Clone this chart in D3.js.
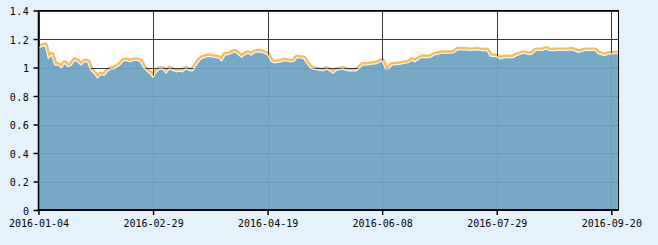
<!DOCTYPE html>
<html>
<head>
<meta charset="utf-8">
<script src="https://cdn.jsdelivr.net/npm/d3@7"></script>
<style>
  html, body { margin: 0; padding: 0; background: #e6f2fb; }
  svg { display: block; }
  .tick text { font-family: "DejaVu Sans Mono", monospace; font-size: 10px; fill: #000; }
</style>
</head>
<body>
<div id="chart"></div>
<script>
// trading-day tick labels and their index in the series
const tickLabels = ["2016-01-04", "2016-02-29", "2016-04-19", "2016-06-08", "2016-07-29", "2016-09-20"];
const tickIndex = [0, 35, 70, 105, 140, 175];
const yTicks = [0, 0.2, 0.4, 0.6, 0.8, 1, 1.2, 1.4];

// net value per trading day
const values = [
  1.136, 1.148, 1.155, 1.064, 1.088, 1.017, 1.017, 0.998, 1.03, 1.005,
  1.017, 1.05, 1.04, 1.017, 1.04, 1.04, 0.98, 0.96, 0.926, 0.95,
  0.945, 0.97, 0.99, 0.99, 1.005, 1.02, 1.048, 1.048, 1.04, 1.05,
  1.05, 1.045, 1.005, 0.976, 0.96, 0.93, 0.97, 0.988, 0.988, 0.96,
  0.99, 0.98, 0.97, 0.975, 0.97, 0.99, 0.98, 0.975, 1.01, 1.045,
  1.064, 1.072, 1.078, 1.074, 1.07, 1.066, 1.045, 1.088, 1.09, 1.1,
  1.11, 1.093, 1.07, 1.09, 1.1, 1.088, 1.105, 1.11, 1.108, 1.1,
  1.09, 1.045, 1.033, 1.036, 1.04, 1.048, 1.044, 1.04, 1.042, 1.07,
  1.066, 1.064, 1.03, 0.998, 0.988, 0.985, 0.98, 0.976, 0.99, 0.975,
  0.96, 0.98, 0.985, 0.99, 0.98, 0.976, 0.976, 0.976, 0.995, 1.017,
  1.018, 1.02, 1.024, 1.026, 1.035, 1.045, 0.99, 0.99, 1.017, 1.02,
  1.022, 1.026, 1.03, 1.033, 1.05, 1.04, 1.055, 1.07, 1.07, 1.07,
  1.074, 1.09, 1.092, 1.1, 1.1, 1.1, 1.1, 1.105, 1.124, 1.124,
  1.124, 1.122, 1.12, 1.122, 1.124, 1.12, 1.117, 1.12, 1.08, 1.078,
  1.076, 1.06, 1.066, 1.07, 1.07, 1.07, 1.083, 1.09, 1.1, 1.095,
  1.09, 1.097, 1.12, 1.12, 1.12, 1.13, 1.12, 1.117, 1.12, 1.12,
  1.12, 1.12, 1.122, 1.124, 1.115, 1.105, 1.112, 1.12, 1.12, 1.12,
  1.12, 1.097, 1.09, 1.083, 1.093, 1.095, 1.097, 1.1
];

const width = 658, height = 245;
const margin = {top: 10.5, right: 39.5, bottom: 35, left: 38.5};

const svg = d3.select("#chart").append("svg")
  .attr("width", width)
  .attr("height", height);

// 175 trading days span the first and last tick
const xTick = d3.scaleLinear()
  .domain([0, 175])
  .range([margin.left, 611.3]);

const y = d3.scaleLinear()
  .domain([0, 1.4])
  .range([height - margin.bottom, margin.top]);

const plotW = width - margin.right - margin.left;
const plotH = height - margin.bottom - margin.top;

svg.append("rect")
  .attr("x", margin.left).attr("y", margin.top)
  .attr("width", plotW).attr("height", plotH)
  .style("fill", "#fff");

const px = (d, i) => xTick(i);

// orange band sits just above the blue area
svg.append("path")
  .datum(values)
  .attr("d", d3.line().x(px).y(d => y(d)))
  .style("fill", "none")
  .style("stroke", "#f6bd5c")
  .style("stroke-width", 6)
  .style("stroke-linejoin", "round");

svg.append("path")
  .datum(values)
  .attr("d", d3.area().x(px).y0(y(0)).y1(d => y(d)))
  .style("fill", "#fff");

// grid
svg.append("g")
  .selectAll("line")
  .data(yTicks)
  .join("line")
  .attr("x1", margin.left).attr("x2", width - margin.right)
  .attr("y1", d => Math.round(y(d)) + 0.5).attr("y2", d => Math.round(y(d)) + 0.5)
  .style("stroke", "#3a3a3a");

svg.append("g")
  .selectAll("line")
  .data(tickIndex)
  .join("line")
  .attr("x1", d => Math.round(xTick(d)) + 0.5).attr("x2", d => Math.round(xTick(d)) + 0.5)
  .attr("y1", margin.top).attr("y2", height - margin.bottom)
  .style("stroke", "#3a3a3a");

svg.append("path")
  .datum(values)
  .attr("d", d3.area().x(px).y0(y(0)).y1(d => y(d)))
  .style("fill", "#6ca4c2")
  .style("fill-opacity", 0.94);

svg.append("path")
  .datum(values)
  .attr("d", d3.line().x(px).y(d => y(d)))
  .style("fill", "none")
  .style("stroke", "#fff")
  .style("stroke-width", 1.2)
  .style("stroke-opacity", 0.85);

// border
svg.append("rect")
  .attr("x", margin.left).attr("y", margin.top)
  .attr("width", plotW).attr("height", plotH)
  .style("fill", "none")
  .style("stroke", "#000");

// axes
const xAxis = svg.append("g")
  .attr("transform", `translate(0,${height - margin.bottom})`)
  .call(d3.axisBottom(xTick)
    .tickValues(tickIndex)
    .tickFormat((d, i) => tickLabels[i])
    .tickSize(5)
    .tickPadding(5));
xAxis.select(".domain").remove();
xAxis.selectAll(".tick line").style("stroke", "#000").style("stroke-width", 1.5);

svg.append("line")
  .attr("x1", margin.left - 1).attr("x2", width - margin.right)
  .attr("y1", height - margin.bottom).attr("y2", height - margin.bottom)
  .style("stroke", "#000").style("stroke-width", 2);

const yAxis = svg.append("g")
  .attr("transform", `translate(${margin.left},0)`)
  .call(d3.axisLeft(y)
    .tickValues(yTicks)
    .tickFormat(d => d === 0 || d === 1 ? d3.format("d")(d) : d3.format(".1f")(d))
    .tickSize(5)
    .tickPadding(4));
yAxis.select(".domain").remove();
yAxis.selectAll(".tick line").style("stroke", "#000").style("stroke-width", 1.5);
yAxis.selectAll(".tick text").attr("dy", "0.42em").style("letter-spacing", "0.6px");

svg.append("line")
  .attr("x1", margin.left).attr("x2", margin.left)
  .attr("y1", margin.top).attr("y2", height - margin.bottom + 1)
  .style("stroke", "#000").style("stroke-width", 1.5);
</script>
</body>
</html>
